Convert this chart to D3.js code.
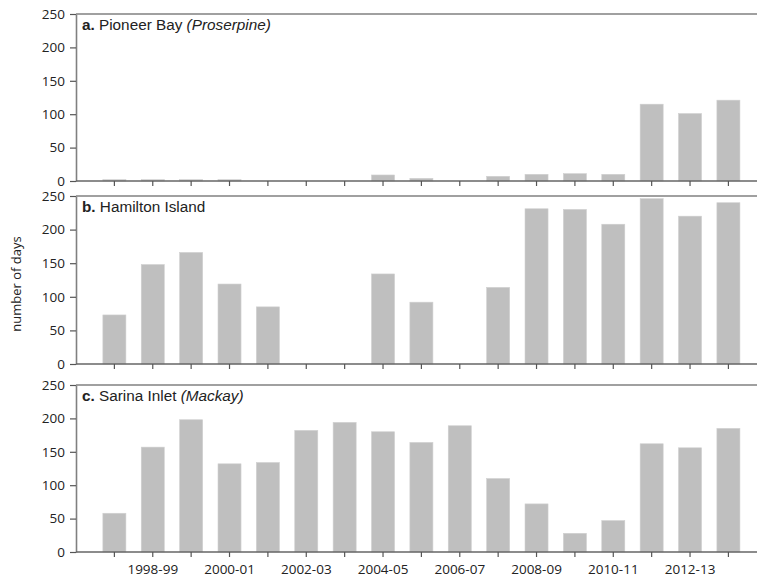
<!DOCTYPE html>
<html><head><meta charset="utf-8">
<script src="https://cdn.jsdelivr.net/npm/d3@7"></script>
<style>body{margin:0;background:#fff}svg{display:block}</style>
</head><body>
<script>
const categories = ["1997-98","1998-99","1999-00","2000-01","2001-02","2002-03","2003-04","2004-05","2005-06","2006-07","2007-08","2008-09","2009-10","2010-11","2011-12","2012-13","2013-14"];
const pioneerBay = [2,2,2,2,0,0,0,9,4,0,7,10,11,10,115,101,121];
const hamiltonIsland = [73,148,166,119,85,0,0,134,92,0,114,231,230,208,246,220,240];
const sarinaInlet = [58,157,198,132,134,182,194,180,164,189,110,72,28,47,162,156,185];
const yTicks = [0,50,100,150,200,250];
const panelTitles = [
  {letter:"a.", name:" Pioneer Bay ", sub:"(Proserpine)"},
  {letter:"b.", name:" Hamilton Island", sub:""},
  {letter:"c.", name:" Sarina Inlet ", sub:"(Mackay)"}
];
const series = [pioneerBay, hamiltonIsland, sarinaInlet];

const W = 757, H = 580;
const svg = d3.select("body").append("svg").attr("width", W).attr("height", H);
const left = 76, right = 757;
const panels = [{top:14, bottom:181},{top:196, bottom:364},{top:385, bottom:552}];
const x = d3.scaleBand().domain(categories).range([95.2, 747.6]).paddingInner(0.4).paddingOuter(0.2);
const axisColor = "#808080";
const tickFont = "'Open Sans', 'DejaVu Sans', sans-serif";

panels.forEach((p, i) => {
  const y = d3.scaleLinear().domain([0, 250]).range([p.bottom, p.top]);
  const g = svg.append("g");
  g.selectAll("rect").data(series[i]).join("rect")
    .attr("x", (d, j) => x(categories[j]))
    .attr("width", x.bandwidth())
    .attr("y", d => y(d))
    .attr("height", d => y(0) - y(d))
    .attr("fill", "#bfbfbf")
    .attr("stroke", "#d0d0d0").attr("stroke-width", 0.6);
  g.append("line").attr("x1", left).attr("x2", right).attr("y1", p.top).attr("y2", p.top)
    .attr("stroke", axisColor).attr("stroke-width", 1.6);
  const ya = g.append("g").attr("transform", `translate(${left},0)`)
    .call(d3.axisLeft(y).tickValues(yTicks).tickSize(6).tickSizeOuter(0).tickPadding(5));
  ya.select(".domain").attr("stroke", axisColor).attr("stroke-width", 1.6);
  ya.selectAll(".tick line").attr("stroke", "#555").attr("stroke-width", 1.2);
  ya.selectAll("text").attr("font-family", tickFont).attr("font-size", 13.5).attr("fill", "#222");
  const xa = g.append("g").attr("transform", `translate(0,${p.bottom})`)
    .call(d3.axisBottom(x).tickSize(5).tickSizeOuter(0).tickPadding(7)
      .tickFormat((d, j) => (i === 2 && j % 2 === 1) ? d : ""));
  xa.select(".domain").attr("d", `M${left},0H${right}`).attr("stroke", "#666").attr("stroke-width", 1.6);
  xa.selectAll(".tick line").attr("stroke", "#555").attr("stroke-width", 1.2);
  xa.selectAll("text").attr("font-family", tickFont).attr("font-size", 13.5).attr("fill", "#222");
  const t = g.append("text").attr("x", 82).attr("y", p.top + 15.5)
    .attr("font-family", "'Liberation Sans', Arial, sans-serif").attr("font-size", 15.3).attr("fill", "#222");
  t.append("tspan").attr("font-weight", "bold").text(panelTitles[i].letter);
  t.append("tspan").text(panelTitles[i].name);
  if (panelTitles[i].sub) t.append("tspan").attr("font-style", "italic").text(panelTitles[i].sub);
});

svg.append("text").attr("transform", "translate(21,284) rotate(-90)")
  .attr("text-anchor", "middle").attr("font-family", tickFont).attr("font-size", 13).attr("fill", "#222")
  .text("number of days");
</script>
</body></html>
